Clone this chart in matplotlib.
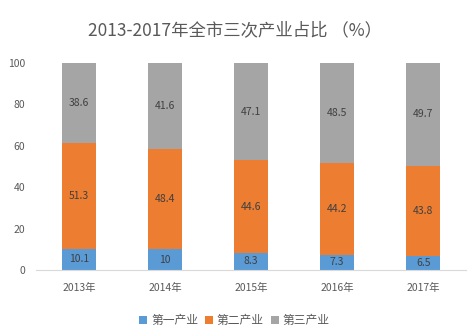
import matplotlib
matplotlib.use("Agg")
import matplotlib.pyplot as plt
import numpy as np

plt.rcParams['font.family'] = ['Noto Sans CJK SC', 'DejaVu Sans']

years = ['2013年', '2014年', '2015年', '2016年', '2017年']
primary = [10.1, 10, 8.3, 7.3, 6.5]
secondary = [51.3, 48.4, 44.6, 44.2, 43.8]
tertiary = [38.6, 41.6, 47.1, 48.5, 49.7]
series_names = ['第一产业', '第二产业', '第三产业']
colors = ['#5B9BD5', '#ED7D31', '#A5A5A5']

fig = plt.figure(figsize=(4.69, 3.32), dpi=100)
ax = fig.add_axes([0.077, 0.187, 0.917, 0.623])
x = np.arange(len(years))
w = 0.4
bottom = np.zeros(len(years))
for vals, c, name in zip([primary, secondary, tertiary], colors, series_names):
    v = np.array(vals)
    ax.bar(x, v, w, bottom=bottom, color=c, label=name)
    for xi, b, vi in zip(x, bottom, v):
        ax.text(xi, b + vi / 2, f'{vi:g}', ha='center', va='center', fontsize=7.5, color='#404040')
    bottom += v

ax.set_xlim(-0.5, len(years) - 0.5)
ax.set_ylim(0, 100)
ax.set_yticks([0, 20, 40, 60, 80, 100])
ax.set_xticks(x)
ax.set_xticklabels(years)
ax.tick_params(axis='both', length=0, labelsize=7.5, colors='#595959')
ax.xaxis.set_tick_params(pad=9)
ax.yaxis.set_tick_params(pad=8)
for s in ['top', 'right', 'left']:
    ax.spines[s].set_visible(False)
ax.spines['bottom'].set_color('#D9D9D9')

fig.text(0.5, 0.91, '2013-2017年全市三次产业占比 （%）', ha='center', va='center', fontsize=12.5, color='#595959')
fig.legend(loc='center', bbox_to_anchor=(0.5, 0.035), ncol=3, frameon=False, fontsize=8.5,
           handlelength=0.7, handleheight=0.7, handletextpad=0.3, columnspacing=0.6, labelcolor='#595959')

fig.savefig('out.png', dpi=100)
